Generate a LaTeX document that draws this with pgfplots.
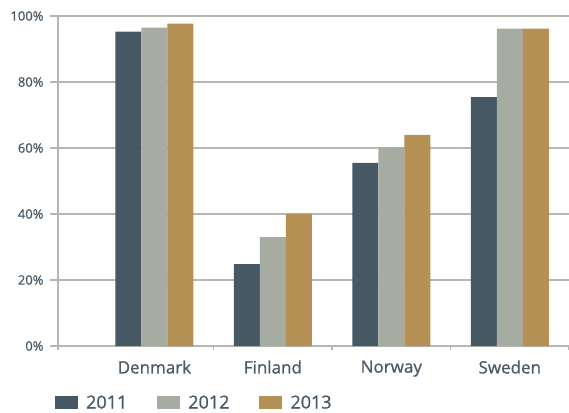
\documentclass[border=0pt]{standalone}
\usepackage{pgfplots}
\pgfplotsset{compat=1.18}
\usepackage{fontspec}
\setmainfont{Open Sans}[FakeBold=0.8]
\definecolor{c11}{HTML}{465864}
\definecolor{c12}{HTML}{A6ACA2}
\definecolor{c13}{HTML}{B49055}
\definecolor{gridc}{HTML}{B4B8B0}
\definecolor{txt}{HTML}{4A5966}
\pgfplotsset{mylegend/.style={legend image code/.code={\fill[##1] (0pt,-6.5pt) rectangle (23pt,6.5pt);}}}
\begin{document}
\begin{tikzpicture}[x=1pt,y=1pt]
\useasboundingbox (0,0) rectangle (569,412);
\begin{axis}[
  at={(58pt,66pt)}, anchor=south west,
  scale only axis, width=511pt, height=330pt,
  xmin=-0.814, xmax=3.5, ymin=0, ymax=100,
  ybar=0pt, bar width=26pt,
  axis x line=bottom, axis y line=left,
  axis line style={-, draw=gridc, line width=1.3pt},
  xtick={0,1,2,3}, xticklabels={Denmark,Finland,Norway,Sweden},
  major x tick style={draw=none},
  minor xtick={-0.814,0.5,1.5,2.5,3.5},
  minor x tick style={draw=gridc, line width=1.3pt},
  minor tick length=4pt,
  tick align=outside,
  ytick={0,20,40,60,80,100},
  major tick length=8pt,
  major y tick style={draw=gridc, line width=1.3pt},
  ymajorgrids, grid style={draw=gridc, line width=1.3pt},
  /pgf/number format/assume math mode=true,
  yticklabel={\pgfmathprintnumber{\tick}\%},
  y tick label style={font=\fontsize{13}{13}\selectfont, text=txt, xshift=-3pt},
  x tick label style={font=\fontsize{17}{17}\selectfont, text=txt, yshift=-3pt},
  legend style={at={(-0.006,-0.172)}, anchor=west, draw=none, fill=none,
    legend columns=3, font=\fontsize{18}{18}\selectfont, text=txt, inner sep=0pt,
    nodes={inner sep=0pt},
    /tikz/every odd column/.append style={column sep=8pt},
    /tikz/every even column/.append style={column sep=30pt}},
]
\addplot[fill=c11, draw=none, mylegend] coordinates {(0,95.3) (1,24.8) (2,55.5) (3,75.4)};
\addplot[fill=c12, draw=none, mylegend] coordinates {(0,96.5) (1,33.0) (2,60.2) (3,96.2)};
\addplot[fill=c13, draw=none, mylegend] coordinates {(0,97.7) (1,40.0) (2,64.0) (3,96.2)};
\legend{2011,2012,2013}
\end{axis}
\end{tikzpicture}
\end{document}
